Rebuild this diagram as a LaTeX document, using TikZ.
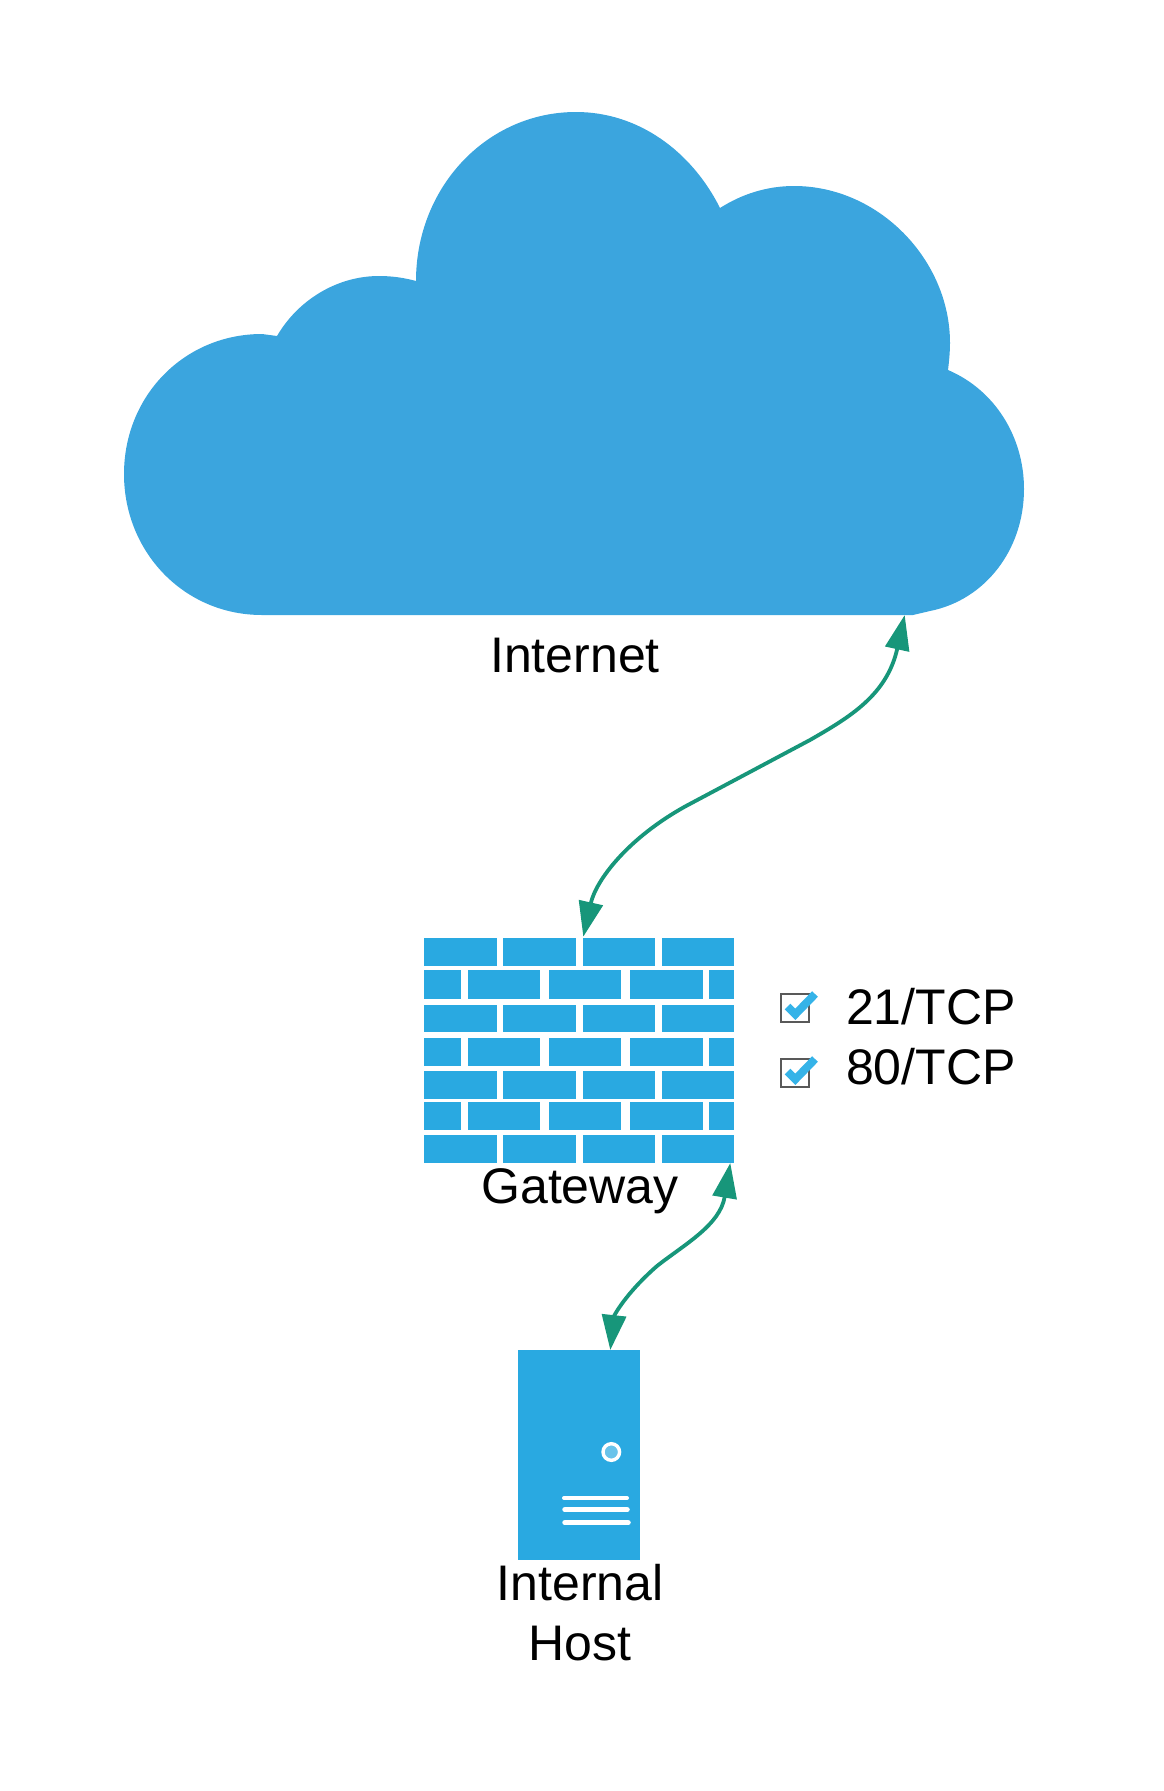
\documentclass[tikz,border=0pt]{standalone}
\usepackage{fontspec}
\setmainfont{Liberation Sans}
\usetikzlibrary{arrows.meta}
\definecolor{cloudblue}{HTML}{3BA5DE}
\definecolor{iconblue}{HTML}{29A9E1}
\definecolor{link}{HTML}{17967A}
\definecolor{tick}{HTML}{35B3E8}
\tikzset{
  label text/.style={font=\fontsize{50}{60}\selectfont,text=black,inner sep=0pt,outer sep=0pt},
  connector/.style={draw=link,line width=3.8pt,{Triangle[length=35pt,width=24pt,fill=link]}-{Triangle[length=35pt,width=24pt,fill=link]}},
  checkbox/.style={draw=black!65,line width=2pt,fill=none},
  checkmark/.style={draw=tick,line width=8pt}
}
\newcommand{\brickrow}[3]{%
  \foreach \xa/\xb in {#3}{\fill[iconblue] (\xa,#1) rectangle (\xb,#2);}}
\begin{document}
\begin{tikzpicture}[x=1pt,y=-1pt]
\useasboundingbox (0,0) rectangle (1163,1791);
% cloud
\fill[cloudblue] (262,615) .. controls (184,615) and (124,552) .. (124,474)
  .. controls (124,396) and (184,334) .. (262,334) -- (277,336)
  .. controls (298,300) and (337,276) .. (379,276)
  .. controls (393,276) and (405,278) .. (416,281)
  .. controls (416,187) and (487,112) .. (576,112)
  .. controls (639,112) and (692,152) .. (720,208)
  .. controls (742,194) and (767,186) .. (794,186)
  .. controls (879,186) and (950,260) .. (950,343)
  .. controls (950,352) and (949,362) .. (948,370)
  .. controls (995,390) and (1024,437) .. (1024,489)
  .. controls (1024,550) and (985,600) .. (930,611) -- (913,615) -- cycle;
\node[label text,anchor=base] (internet) at (575,672) {Internet};
% firewall
\def\ca{424}\def\cb{497}\def\cc{503}\def\cd{576}\def\ce{583}\def\cf{655}\def\cg{662}\def\ch{734}
\def\da{460.5}\def\db{467.5}\def\dc{540}\def\dd{549}\def\de{621}\def\df{630}\def\dg{703}\def\dh{709}
\brickrow{937.5}{965.5}{\ca/\cb,\cc/\cd,\ce/\cf,\cg/\ch}
\brickrow{970}{998.5}{\ca/\da,\db/\dc,\dd/\de,\df/\dg,\dh/\ch}
\brickrow{1004.5}{1032}{\ca/\cb,\cc/\cd,\ce/\cf,\cg/\ch}
\brickrow{1037.5}{1066}{\ca/\da,\db/\dc,\dd/\de,\df/\dg,\dh/\ch}
\brickrow{1071}{1098.5}{\ca/\cb,\cc/\cd,\ce/\cf,\cg/\ch}
\brickrow{1102}{1130}{\ca/\da,\db/\dc,\dd/\de,\df/\dg,\dh/\ch}
\brickrow{1135}{1162.7}{\ca/\cb,\cc/\cd,\ce/\cf,\cg/\ch}
\node[label text,anchor=base] (gateway) at (580,1203) {Gateway};
% checks
\draw[checkbox] (781,994) rectangle (809,1022) (781,1059) rectangle (809,1087);
\draw[checkmark] (787.5,1006.5) -- (795.3,1014.3) -- (815,994);
\draw[checkmark] (787.5,1071.5) -- (795.3,1079.3) -- (815,1059);
\node[label text,anchor=base west] (tcpa) at (846,1024) {21/TCP};
\node[label text,anchor=base west] (tcpb) at (846,1084) {80/TCP};
% server
\fill[iconblue] (517.7,1350) rectangle (640.3,1560);
\draw[white,line width=3.4pt,fill=iconblue!70!white] (611.3,1452) circle (8.3);
\draw[white,line width=4pt,line cap=round] (564,1498) -- (627,1498);
\draw[white,line width=5.5pt,line cap=round] (565,1509.7) -- (627,1509.7);
\draw[white,line width=5.5pt,line cap=round] (565,1522.7) -- (628,1522.7);
\node[label text,align=center,anchor=center] (host) at (580,1612.5) {Internal\\Host};
% connectors
\coordinate (cloudport) at (904.7,615);
\coordinate (gatetop) at (583.3,936.7);
\coordinate (gatebottom) at (730.3,1163);
\coordinate (hosttop) at (610.3,1350);
\draw[connector] (gatetop) .. controls (596,880) and (628,838) .. (686,806)
  -- (810,740) .. controls (850,717) and (887,695) .. (cloudport);
\draw[connector] (hosttop) .. controls (614,1316) and (625,1294) .. (657,1266)
  .. controls (685,1244) and (720,1225) .. (gatebottom);
\end{tikzpicture}
\end{document}
